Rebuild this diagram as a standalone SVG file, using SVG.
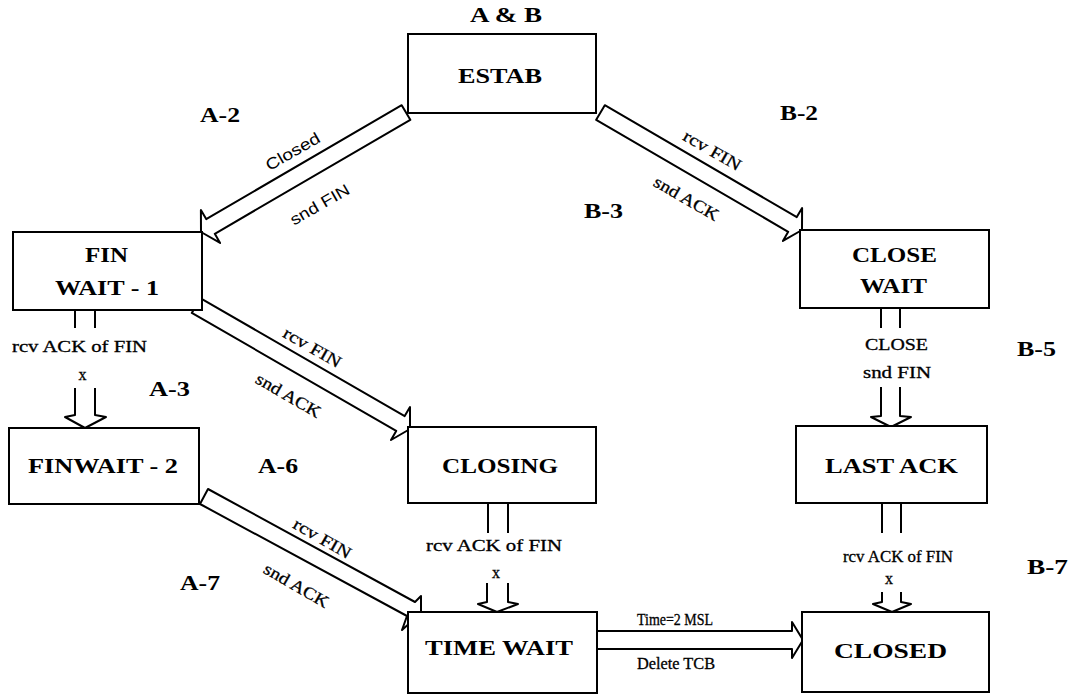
<svg xmlns="http://www.w3.org/2000/svg" width="1071" height="695" viewBox="0 0 1071 695">
<style>
.box{fill:#fff;stroke:#000;stroke-width:2}
.blk{fill:#fff;stroke:#000;stroke-width:2;stroke-linejoin:round}
.ln{fill:none;stroke:#000;stroke-width:2;stroke-linejoin:round}
.nt{font-family:"Liberation Serif",serif;font-weight:bold;font-size:21px;fill:#000;text-anchor:middle}
.tag{font-family:"Liberation Serif",serif;font-weight:bold;font-size:20px;fill:#000}
.sm{font-family:"Liberation Serif",serif;font-size:16px;fill:#000;text-anchor:middle;stroke:#000;stroke-width:0.3}
.rt{font-family:"Liberation Serif",serif;font-size:17px;fill:#000;text-anchor:middle;stroke:#000;stroke-width:0.3}
.ss{font-family:"Liberation Sans",Arial,sans-serif;font-size:16px;fill:#000;text-anchor:middle}
</style>
<rect width="1071" height="695" fill="#fff"/>
<g id="connectors">
  <polygon class="blk" points="401.7,105.2 206.2,219.1 200.9,210.1 201,232 220.1,242.9 214.8,233.8 410.3,119.8"/>
  <polygon class="blk" points="604.8,105.2 796.8,217.1 802.1,208.1 802,230 782.9,240.9 788.2,231.8 596.2,119.8"/>
  <polygon class="blk" points="200.3,298.1 404.7,416.1 410,407 410,429 391,440 396.2,430.9 191.8,312.9"/>
  <polygon class="blk" points="208,489 415,602 421,596 421,613 402,630 407,616 200,504"/>
  <path class="ln" d="M75,310 V328 M95,310 V328 M75,388 V415 L65,417 L85,428 L106,417 L95,415 V388"/>
  <path class="ln" d="M881,309 V328 M900,309 V328 M881,387 V416 L871,417 L891,427 L911,417 L900,416 V387"/>
  <path class="ln" d="M488,503 V533 M508,503 V533 M487,583 V602 L478,604 L497,612 L518,604 L508,602 V583"/>
  <path class="ln" d="M882,503 V533 M901,503 V533 M882,592 V602 L873,604 L892,612 L911,604 L901,602 V592"/>
  <path class="blk" d="M597,631 H792 V622 L803,640 L792,658 V649 H597"/>
  <text class="ss" transform="translate(293,152) rotate(-30)" textLength="60" lengthAdjust="spacingAndGlyphs" y="5">Closed</text>
  <text class="ss" transform="translate(320,205) rotate(-30)" textLength="66" lengthAdjust="spacingAndGlyphs" y="5">snd FIN</text>
  <text class="rt" transform="translate(712,151) rotate(30)" textLength="64" lengthAdjust="spacingAndGlyphs" y="5">rcv FIN</text>
  <text class="rt" transform="translate(686,199) rotate(30)" textLength="72" lengthAdjust="spacingAndGlyphs" y="5">snd ACK</text>
  <text class="rt" transform="translate(312,348) rotate(30)" textLength="64" lengthAdjust="spacingAndGlyphs" y="5">rcv FIN</text>
  <text class="rt" transform="translate(288,396) rotate(30)" textLength="72" lengthAdjust="spacingAndGlyphs" y="5">snd ACK</text>
  <text class="rt" transform="translate(322,539) rotate(30)" textLength="64" lengthAdjust="spacingAndGlyphs" y="5">rcv FIN</text>
  <text class="rt" transform="translate(296,586) rotate(30)" textLength="72" lengthAdjust="spacingAndGlyphs" y="5">snd ACK</text>
  <text class="sm" x="79.5" y="352" textLength="135" lengthAdjust="spacingAndGlyphs">rcv ACK of FIN</text>
  <text class="sm" x="82.5" y="380">x</text>
  <text class="sm" x="896.5" y="350" textLength="63" lengthAdjust="spacingAndGlyphs">CLOSE</text>
  <text class="sm" x="897" y="378" textLength="68" lengthAdjust="spacingAndGlyphs">snd FIN</text>
  <text class="sm" x="494" y="551" textLength="136" lengthAdjust="spacingAndGlyphs">rcv ACK of FIN</text>
  <text class="sm" x="496" y="578">x</text>
  <text class="sm" x="898" y="562" textLength="110" lengthAdjust="spacingAndGlyphs">rcv ACK of FIN</text>
  <text class="sm" x="889" y="584">x</text>
  <text class="sm" x="675" y="625" textLength="76" lengthAdjust="spacingAndGlyphs">Time=2 MSL</text>
  <text class="sm" x="676" y="669" textLength="78" lengthAdjust="spacingAndGlyphs">Delete TCB</text>
</g>
<g id="labels">
  <text class="tag" x="506" y="22" text-anchor="middle" textLength="72" lengthAdjust="spacingAndGlyphs">A &amp; B</text>
  <text class="tag" x="200" y="122" textLength="40" lengthAdjust="spacingAndGlyphs">A-2</text>
  <text class="tag" x="780" y="120" textLength="38" lengthAdjust="spacingAndGlyphs">B-2</text>
  <text class="tag" x="584" y="218" textLength="39" lengthAdjust="spacingAndGlyphs">B-3</text>
  <text class="tag" x="149" y="396" textLength="41" lengthAdjust="spacingAndGlyphs">A-3</text>
  <text class="tag" x="1017" y="356" textLength="39" lengthAdjust="spacingAndGlyphs">B-5</text>
  <text class="tag" x="258" y="473" textLength="40" lengthAdjust="spacingAndGlyphs">A-6</text>
  <text class="tag" x="1027" y="574" textLength="41" lengthAdjust="spacingAndGlyphs">B-7</text>
  <text class="tag" x="180" y="590" textLength="40" lengthAdjust="spacingAndGlyphs">A-7</text>
</g>
<g id="estab">
  <rect class="box" x="408" y="34" width="188" height="79"/>
  <text class="nt" x="500" y="83" textLength="84" lengthAdjust="spacingAndGlyphs">ESTAB</text>
</g>
<g id="finwait1">
  <rect class="box" x="13" y="232" width="189" height="78"/>
  <text class="nt" x="106.5" y="262" textLength="43" lengthAdjust="spacingAndGlyphs">FIN</text>
  <text class="nt" x="107" y="295" textLength="104" lengthAdjust="spacingAndGlyphs">WAIT - 1</text>
</g>
<g id="closewait">
  <rect class="box" x="800" y="230" width="189" height="78"/>
  <text class="nt" x="894.5" y="262" textLength="85" lengthAdjust="spacingAndGlyphs">CLOSE</text>
  <text class="nt" x="893.5" y="293" textLength="67" lengthAdjust="spacingAndGlyphs">WAIT</text>
</g>
<g id="finwait2">
  <rect class="box" x="9" y="428" width="190" height="76"/>
  <text class="nt" x="103" y="473" textLength="150" lengthAdjust="spacingAndGlyphs">FINWAIT - 2</text>
</g>
<g id="closing">
  <rect class="box" x="408" y="427" width="188" height="76"/>
  <text class="nt" x="500" y="473" textLength="116" lengthAdjust="spacingAndGlyphs">CLOSING</text>
</g>
<g id="lastack">
  <rect class="box" x="796" y="426" width="191" height="77"/>
  <text class="nt" x="891.5" y="473" textLength="133" lengthAdjust="spacingAndGlyphs">LAST ACK</text>
</g>
<g id="timewait">
  <rect class="box" x="408" y="612" width="189" height="81"/>
  <text class="nt" x="499" y="655" textLength="148" lengthAdjust="spacingAndGlyphs">TIME WAIT</text>
</g>
<g id="closed">
  <rect class="box" x="802" y="612" width="187" height="80"/>
  <text class="nt" x="890.5" y="658" textLength="113" lengthAdjust="spacingAndGlyphs">CLOSED</text>
</g>
</svg>
